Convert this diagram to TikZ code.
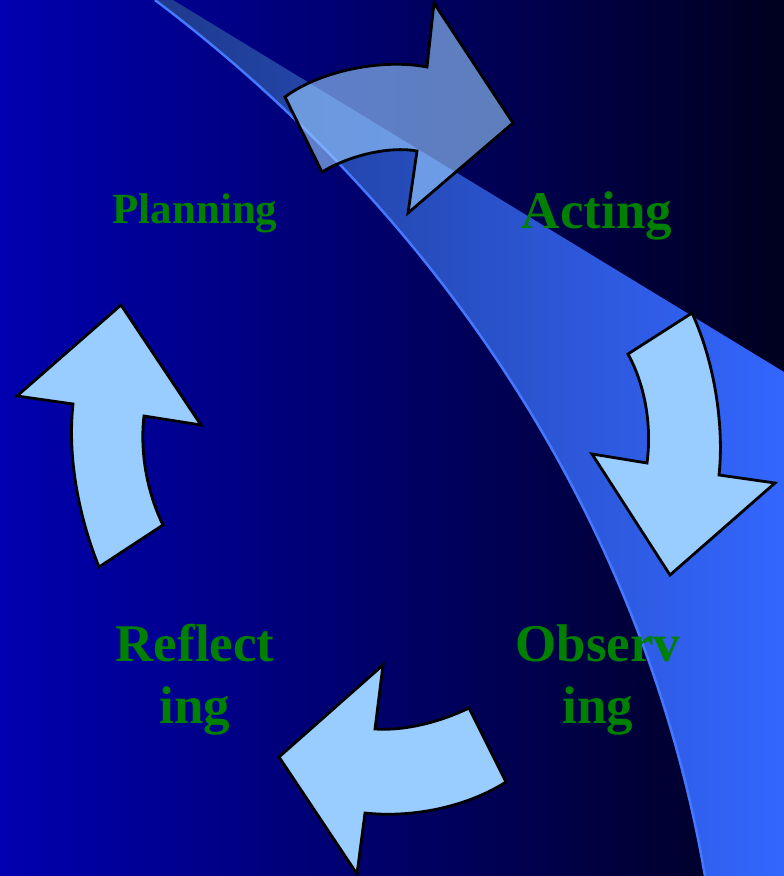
\documentclass[tikz,border=0pt]{standalone}
\usepackage{fontspec}
\setmainfont{Liberation Serif}
\usepackage{xcolor}
\usepackage{tikz}

\definecolor{bgleft}{RGB}{0,0,176}
\definecolor{bgright}{RGB}{0,0,30}
\definecolor{bandlow}{RGB}{30,58,140}
\definecolor{bandhigh}{RGB}{51,102,255}
\definecolor{bandedge}{RGB}{70,120,255}
\definecolor{arrowblue}{RGB}{153,204,255}
\definecolor{labelgreen}{RGB}{0,128,0}

\tikzset{
  cyclearrow/.style={draw=black,line width=2.8pt,fill=arrowblue,line join=miter},
  steplabel/.style={text=labelgreen,align=center,anchor=base,
    font=\bfseries\fontsize{53}{62}\selectfont}
}

\begin{document}
\begin{tikzpicture}[x=1pt,y=-1pt]
\useasboundingbox (0,0) rectangle (784,876);
% background and swoosh
\shade[left color=bgleft,right color=bgright] (0,0) rectangle (784,876);
\shade[left color=bandlow,right color=bandhigh]
(155,0) .. controls (420,200) and (640,500) .. (705,876)
-- (784,876) -- (784,372) -- (173,0) -- cycle;
\draw[bandedge,line width=2.5pt] (155,0) .. controls (420,200) and (640,500) .. (705,876);

% the four arrows
\draw[cyclearrow,fill opacity=0.62]
(285,97) .. controls (318,72) and (380,58) .. (427,67)
-- (434,3) -- (513,123) -- (408,213) -- (417,151)
.. controls (390,146) and (350,155) .. (322,172) -- cycle;
\draw[cyclearrow]
(692,313) -- (628,354) .. controls (645,385) and (652,425) .. (647,463)
-- (592,454) -- (670,575) -- (775,483) -- (719,475)
.. controls (724,430) and (716,365) .. (692,313) -- cycle;
\draw[cyclearrow]
(506,782) -- (469,708) .. controls (440,722) and (405,731) .. (375,729)
-- (383,665) -- (279,757) -- (357,874) -- (365,813)
.. controls (410,818) and (465,808) .. (506,782) -- cycle;
\draw[cyclearrow]
(121,305) -- (17,396) -- (73,404) .. controls (67,460) and (80,520) .. (99,567)
-- (163,525) .. controls (146,490) and (140,450) .. (144,416)
-- (201,425) -- cycle;

% labels
\node[steplabel,font=\bfseries\fontsize{43}{50}\selectfont] (planning) at (195,223) {Planning};
\node[steplabel] (acting) at (597,228) {Acting};
\node[steplabel] (observing) at (598,723) {Observ\\ing};
\node[steplabel] (reflecting) at (195,723) {Reflect\\ing};
\end{tikzpicture}
\end{document}
